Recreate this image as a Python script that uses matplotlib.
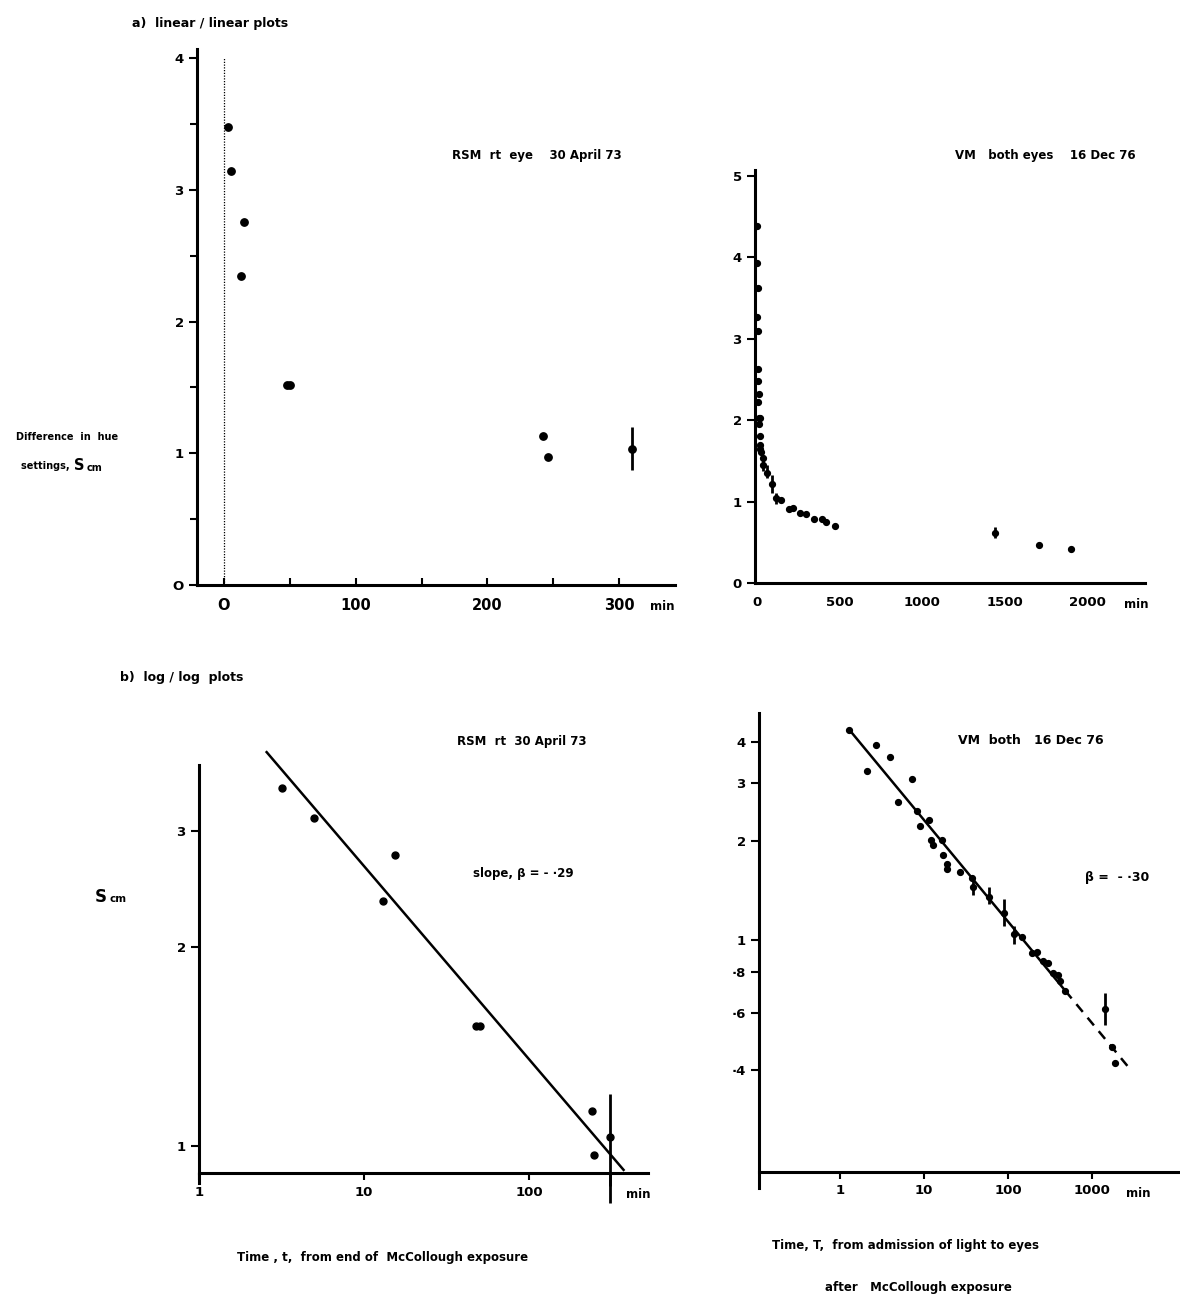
import matplotlib
matplotlib.use("Agg")
import matplotlib.pyplot as plt
import matplotlib.ticker as ticker

plt.rcParams['font.family'] = ['DejaVu Sans']
plt.rcParams['font.weight'] = 'bold'

# RSM, right eye, 30 April 73 (t = minutes from end of exposure)
rsm_t = [3.2, 5, 13, 15.5, 47.5, 50.5, 242, 246, 310]
rsm_S = [3.48, 3.14, 2.35, 2.76, 1.52, 1.52, 1.13, 0.97, 1.03]
rsm_bar_t = [310]
rsm_bar_lo = [0.87]
rsm_bar_hi = [1.20]
rsm_fit_t = [2.57, 374]
rsm_fit_S = [3.95, 0.92]

# VM, both eyes, 16 Dec 76 (T = minutes from admission of light)
vm_T = [1.28, 2.1, 2.7, 3.9, 4.9, 7.2, 8.2, 8.9, 11.3, 12.0, 12.8, 16.2, 16.7,
        18.6, 18.8, 26.6, 37, 38.5, 59, 90, 117, 148, 191, 221, 261, 299, 343,
        394, 420, 473, 1440, 1710, 1900]
vm_S = [4.38, 3.27, 3.93, 3.62, 2.63, 3.09, 2.48, 2.22, 2.32, 2.02, 1.95, 2.02,
        1.81, 1.70, 1.64, 1.61, 1.54, 1.45, 1.35, 1.21, 1.04, 1.02, 0.91, 0.92,
        0.86, 0.85, 0.79, 0.78, 0.75, 0.70, 0.615, 0.47, 0.42]
vm_bar_T = [38.5, 59, 90, 117, 1440]
vm_bar_lo = [1.37, 1.29, 1.10, 0.97, 0.55]
vm_bar_hi = [1.52, 1.45, 1.33, 1.10, 0.69]
vm_fit_T = [1.28, 480]
vm_fit_S = [4.38, 0.70]
vm_ext_T = [480, 2700]
vm_ext_S = [0.70, 0.41]

W, H = 1180, 1297
fig = plt.figure(figsize=(W / 100, H / 100), dpi=100)


def px_axes(l, t, r, b):
    return fig.add_axes([l / W, 1 - b / H, (r - l) / W, (b - t) / H])


def ftext(x, y, s, size=8.5, ha='left'):
    fig.text(x / W, 1 - y / H, s, fontsize=size, ha=ha, va='center',
             fontweight='bold')


def style(ax):
    for side in ['top', 'right']:
        ax.spines[side].set_visible(False)
    for side in ['left', 'bottom']:
        ax.spines[side].set_linewidth(2.2)
    ax.set_facecolor('none')
    ax.tick_params(which='both', width=1.5, labelsize=9.5)
    ax.tick_params(axis='y', which='major', length=6, direction='out')
    ax.tick_params(axis='y', which='minor', length=5, direction='out')
    ax.tick_params(axis='x', which='both', length=5, direction='in', pad=9)


def min_label(ax, x):
    ax.annotate('min', xy=(x, 0), xycoords=('data', 'axes fraction'),
                xytext=(0, -11), textcoords='offset points', ha='center',
                va='top', fontsize=8.5, fontweight='bold')


# a) linear / linear, RSM
ax = px_axes(197, 49, 675, 585)
style(ax)
ax.set_xlim(-20.5, 342.5)
ax.set_ylim(0, 4.07)
ax.axvline(0, ymax=4.0 / 4.07, color='black', lw=0.9, ls=(0, (1, 1.2)))
ax.plot(rsm_t, rsm_S, 'o', color='black', ms=5.3)
ax.vlines(rsm_bar_t, rsm_bar_lo, rsm_bar_hi, color='black', lw=2)
ax.set_xticks([0, 100, 200, 300])
ax.xaxis.set_minor_locator(ticker.FixedLocator([50, 150, 250]))
ax.set_yticks([0, 1, 2, 3, 4])
ax.yaxis.set_minor_locator(ticker.FixedLocator([0.5, 1.5, 2.5, 3.5]))
ax.set_xticklabels(['O', '100', '200', '300'], fontsize=10.5)
ax.set_yticklabels(['O', '1', '2', '3', '4'])
min_label(ax, 333)

# a) linear / linear, VM
ax = px_axes(755, 170, 1145, 583)
style(ax)
ax.set_xlim(-12, 2351)
ax.set_ylim(0, 5.07)
ax.plot(vm_T, vm_S, 'o', color='black', ms=4.2)
ax.vlines(vm_bar_T, vm_bar_lo, vm_bar_hi, color='black', lw=2)
ax.set_xticks([0, 500, 1000, 1500, 2000])
ax.set_yticks([0, 1, 2, 3, 4, 5])
ax.tick_params(axis='x', length=0)
min_label(ax, 2300)

# b) log / log, RSM
ax = px_axes(199, 758, 648, 1173)
style(ax)
ax.set_xscale('log')
ax.set_yscale('log')
ax.set_xlim(1, 526)
ax.set_ylim(0.91, 3.87)
ax.spines['left'].set_bounds(0.88, 3.78)
ax.plot(rsm_t, rsm_S, 'o', color='black', ms=5)
ax.plot(rsm_fit_t, rsm_fit_S, '-', color='black', lw=1.8, clip_on=False)
ax.vlines(rsm_bar_t, rsm_bar_lo, rsm_bar_hi, color='black', lw=2,
          clip_on=False)
ax.vlines(rsm_bar_t, 0.82, 0.91, color='black', lw=2, clip_on=False)
ax.xaxis.set_minor_locator(ticker.NullLocator())
ax.yaxis.set_minor_locator(ticker.NullLocator())
ax.set_xticks([1, 10, 100])
ax.set_xticklabels(['1', '10', '100'])
ax.set_yticks([1, 2, 3])
ax.set_yticklabels(['1', '2', '3'])
ax.tick_params(axis='x', direction='out', length=5, pad=4)
min_label(ax, 457)

# b) log / log, VM
ax = px_axes(759, 713, 1180, 1172)
style(ax)
ax.set_xscale('log')
ax.set_yscale('log')
ax.set_xlim(0.108, 11170)
ax.set_ylim(0.196, 4.92)
ax.spines['left'].set_bounds(0.175, 4.92)
ax.plot(vm_T, vm_S, 'o', color='black', ms=4.2)
ax.vlines(vm_bar_T, vm_bar_lo, vm_bar_hi, color='black', lw=2)
ax.plot(vm_fit_T, vm_fit_S, '-', color='black', lw=1.8)
ax.plot(vm_ext_T, vm_ext_S, '--', color='black', lw=1.8, dashes=(4, 3))
ax.xaxis.set_minor_locator(ticker.NullLocator())
ax.yaxis.set_minor_locator(ticker.NullLocator())
ax.set_xticks([1, 10, 100, 1000])
ax.set_xticklabels(['1', '10', '100', '1000'])
ax.set_yticks([0.4, 0.6, 0.8, 1, 2, 3, 4])
ax.set_yticklabels(['\u00b74', '\u00b76', '\u00b78', '1', '2', '3', '4'])
ax.tick_params(axis='x', direction='out', length=5, pad=4)
min_label(ax, 3540)

# annotations
ftext(132, 23, 'a)  linear / linear plots', size=9)
ftext(120, 678, 'b)  log / log  plots', size=9)
ftext(537, 155, 'RSM  rt  eye    30 April 73', ha='center')
ftext(1045, 155, 'VM   both eyes    16 Dec 76', ha='center')
ftext(67, 437, 'Difference  in  hue', size=7, ha='center')
ftext(73, 466, 'settings, ', size=7, ha='right')
ftext(74, 465, 'S', size=10.5)
ftext(87, 468, 'cm', size=7)
ftext(95, 897, 'S', size=12)
ftext(109, 899, 'cm', size=7.5)
ftext(522, 742, 'RSM  rt  30 April 73', ha='center')
ftext(473, 873, 'slope, \u03b2 = - \u00b729', size=8.5)
ftext(958, 740, 'VM  both   16 Dec 76', size=9)
ftext(1085, 877, '\u03b2 =  - \u00b730', size=9)
ftext(383, 1258, 'Time , t,  from end of  McCollough exposure', size=8.5, ha='center')
ftext(905, 1245, 'Time, T,  from admission of light to eyes', size=8.5, ha='center')
ftext(918, 1288, 'after   McCollough exposure', size=8.5, ha='center')

fig.savefig('out.png', dpi=100, facecolor='white')
